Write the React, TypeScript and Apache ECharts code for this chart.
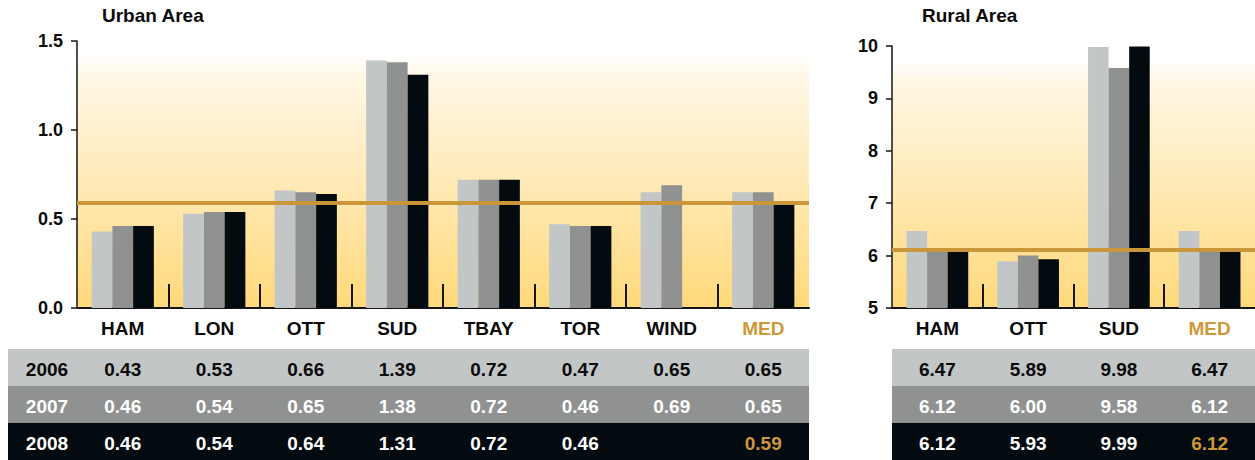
import React, { useEffect, useRef } from 'react';
import * as echarts from 'echarts';

// ---------- data ----------
const years = ['2006', '2007', '2008'];

const urbanCats = ['HAM', 'LON', 'OTT', 'SUD', 'TBAY', 'TOR', 'WIND', 'MED'];
const urban2006 = [0.43, 0.53, 0.66, 1.39, 0.72, 0.47, 0.65, 0.65];
const urban2007 = [0.46, 0.54, 0.65, 1.38, 0.72, 0.46, 0.69, 0.65];
const urban2008: (number | null)[] = [0.46, 0.54, 0.64, 1.31, 0.72, 0.46, null, 0.59];

const ruralCats = ['HAM', 'OTT', 'SUD', 'MED'];
const rural2006 = [6.47, 5.89, 9.98, 6.47];
const rural2007 = [6.12, 6.0, 9.58, 6.12];
const rural2008 = [6.12, 5.93, 9.99, 6.12];

const urbanAxis = { min: 0, max: 1.5, interval: 0.5 };
const ruralAxis = { min: 5, max: 10, interval: 1 };

const titles = ['Urban Area', 'Rural Area'];

// ---------- style ----------
const FONT = '"Liberation Sans", Arial, Helvetica, sans-serif';
const FS = 19;
const barColors = ['#C2C6C6', '#8F9291', '#030A10'];
const rowText = ['#0B0B0B', '#FFFFFF', '#FFFFFF'];
const GOLD = '#CC9838';
const MEDIAN_LINE = '#C9963A';

function bg() {
  return new echarts.graphic.LinearGradient(0, 0, 0, 1, [
    { offset: 0, color: '#FFFFFF' },
    { offset: 0.05, color: '#FFFFFF' },
    { offset: 0.14, color: '#FFF7E4' },
    { offset: 0.5, color: '#FFEABA' },
    { offset: 1, color: '#FFD97A' },
  ]);
}

function catLabel(v: string) {
  return v === 'MED' ? '{m|' + v + '}' : v;
}

export default function App() {
  const ref = useRef<HTMLDivElement>(null);

  useEffect(() => {
    if (!ref.current) return;
    const chart = echarts.init(ref.current, null, { renderer: 'svg' });

    const xAxisCommon = {
      type: 'category' as const,
      axisLine: { lineStyle: { color: '#151515', width: 2 } },
      axisTick: { show: false },
      axisLabel: {
        interval: 0,
        margin: 11,
        fontSize: FS,
        fontWeight: 'bold',
        fontFamily: FONT,
        color: '#0B0B0B',
        formatter: catLabel,
        rich: { m: { color: GOLD, fontSize: FS, fontWeight: 'bold', fontFamily: FONT } },
      },
    };
    const yAxisCommon = {
      type: 'value' as const,
      axisLine: { show: true, lineStyle: { color: '#151515', width: 1.5 } },
      axisTick: { show: true, length: 6, lineStyle: { color: '#151515', width: 1.5 } },
      splitLine: { show: false },
      axisLabel: { margin: 14, fontSize: 18, fontWeight: 'bold', fontFamily: FONT, color: '#0B0B0B' },
    };

    const mkSeries = (
      idx: number,
      data: (number | null)[][],
      median: number
    ) =>
      data.map((d, i) => ({
        type: 'bar' as const,
        name: years[i],
        xAxisIndex: idx,
        yAxisIndex: idx,
        data: d,
        barGap: '0%',
        barCategoryGap: '32%',
        itemStyle: { color: barColors[i] },
        silent: true,
        ...(i === 2
          ? {
              markLine: {
                silent: true,
                symbol: 'none',
                z: 10,
                label: { show: false },
                lineStyle: { color: MEDIAN_LINE, width: 4, type: 'solid', opacity: 1 },
                data: [{ yAxis: median }],
              },
            }
          : {}),
      }));

    const urbanMedian = urban2008[urban2008.length - 1] as number;
    const ruralMedian = rural2008[rural2008.length - 1];

    const titleStyle = { fontSize: FS, fontWeight: 'bold', fontFamily: FONT, color: '#0B0B0B' };

    chart.setOption({
      animation: false,
      title: [
        { text: titles[0], left: 102, top: 6, padding: 0, textStyle: titleStyle },
        { text: titles[1], left: 922, top: 6, padding: 0, textStyle: titleStyle },
      ],
      grid: [
        { left: 77, top: 41, width: 732, height: 267, show: true, backgroundColor: bg(), borderWidth: 0 },
        { left: 892, top: 46, width: 363, height: 262, show: true, backgroundColor: bg(), borderWidth: 0 },
      ],
      xAxis: [
        { ...xAxisCommon, gridIndex: 0, data: urbanCats },
        { ...xAxisCommon, gridIndex: 1, data: ruralCats },
      ],
      yAxis: [
        {
          ...yAxisCommon,
          gridIndex: 0,
          ...urbanAxis,
          axisLabel: { ...yAxisCommon.axisLabel, formatter: (v: number) => v.toFixed(1) },
        },
        { ...yAxisCommon, gridIndex: 1, ...ruralAxis },
      ],
      series: [
        ...mkSeries(0, [urban2006, urban2007, urban2008], urbanMedian),
        ...mkSeries(1, [rural2006, rural2007, rural2008], ruralMedian),
      ],
    });

    // ---------- table + dividers built from library scales ----------
    const rowTops = [349, 386, 423];
    const rowH = 37;
    const gfx: any[] = [];

    const build = (
      idx: number,
      cats: string[],
      rows: (number | null)[][],
      x0: number,
      x1: number,
      withYears: boolean,
      min: number
    ) => {
      const xs = cats.map((c) => chart.convertToPixel({ xAxisIndex: idx }, c) as number);
      const base = chart.convertToPixel({ yAxisIndex: idx }, min) as number;
      for (let i = 0; i < xs.length - 1; i++) {
        const x = Math.round((xs[i] + xs[i + 1]) / 2);
        gfx.push({
          type: 'line',
          z: 20,
          shape: { x1: x, y1: base, x2: x, y2: base - 24 },
          style: { stroke: '#151515', lineWidth: 2 },
        });
      }
      rows.forEach((r, ri) => {
        gfx.push({
          type: 'rect',
          z: 1,
          shape: { x: x0, y: rowTops[ri], width: x1 - x0, height: rowH },
          style: { fill: barColors[ri] },
        });
        if (withYears) {
          gfx.push({
            type: 'text',
            z: 5,
            x: 47,
            y: rowTops[ri] + rowH / 2 + 1.5,
            style: {
              text: years[ri],
              fill: rowText[ri],
              fontSize: FS,
              fontWeight: 'bold',
              fontFamily: FONT,
              align: 'center',
              verticalAlign: 'middle',
            },
          });
        }
        r.forEach((v, ci) => {
          if (v == null) return;
          const isMed = cats[ci] === 'MED' && ri === 2;
          gfx.push({
            type: 'text',
            z: 5,
            x: xs[ci],
            y: rowTops[ri] + rowH / 2 + 1.5,
            style: {
              text: v.toFixed(2),
              fill: isMed ? GOLD : rowText[ri],
              fontSize: FS,
              fontWeight: 'bold',
              fontFamily: FONT,
              align: 'center',
              verticalAlign: 'middle',
            },
          });
        });
      });
    };

    build(0, urbanCats, [urban2006, urban2007, urban2008], 8, 809, true, urbanAxis.min);
    build(1, ruralCats, [rural2006, rural2007, rural2008], 892, 1255, false, ruralAxis.min);

    chart.setOption({ graphic: gfx });

    return () => chart.dispose();
  }, []);

  return (
    <div
      ref={ref}
      style={{ position: 'fixed', left: 0, top: 0, width: 1255, height: 460, background: '#FFFFFF' }}
    />
  );
}
